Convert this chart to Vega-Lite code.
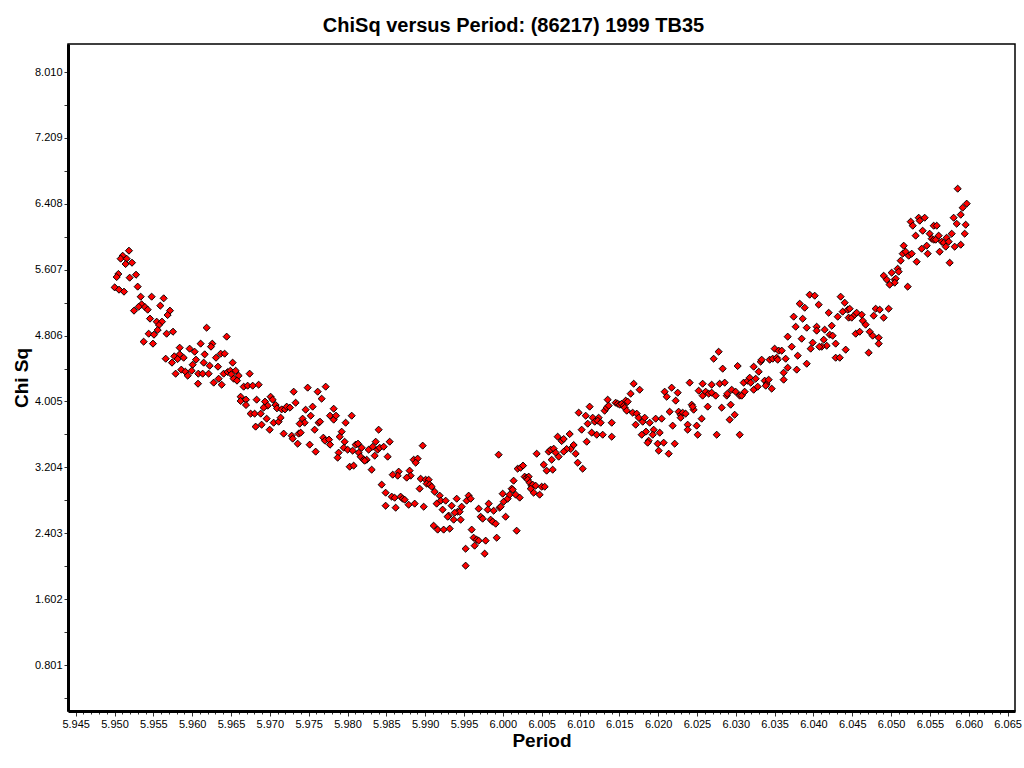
{
  "$schema": "https://vega.github.io/schema/vega-lite/v6.json",
  "width": 947,
  "height": 667,
  "autosize": "none",
  "padding": {"left": 68, "top": 44, "right": 9, "bottom": 57},
  "background": "white",
  "config": {
    "font": "Liberation Sans",
    "view": {"stroke": "black", "strokeWidth": 1.5},
    "axis": {"grid": false, "domainColor": "black", "domainWidth": 3, "tickColor": "#333", "labelColor": "black", "labelFontSize": 11, "labelFont": "Liberation Sans", "titleFont": "Liberation Sans", "titleFontSize": 19, "titleFontWeight": "bold", "titleColor": "black"}
  },
  "title": {"text": "ChiSq versus Period: (86217) 1999 TB35", "fontSize": 20, "fontWeight": "bold", "font": "Liberation Sans", "color": "black", "anchor": "middle", "dx": -28, "offset": 8},
  "data": {"values": [
{"period":5.95186,"chisq":5.838},{"period":5.95105,"chisq":5.777},{"period":5.95079,"chisq":5.741},{"period":5.95156,"chisq":5.741},{"period":5.95143,"chisq":5.676},{"period":5.95225,"chisq":5.692},{"period":5.95049,"chisq":5.555},{"period":5.95028,"chisq":5.518},{"period":5.95195,"chisq":5.510},{"period":5.95277,"chisq":5.546},{"period":5.95002,"chisq":5.392},{"period":5.95058,"chisq":5.364},{"period":5.95122,"chisq":5.340},{"period":5.95298,"chisq":5.401},{"period":5.95337,"chisq":5.279},{"period":5.95478,"chisq":5.279},{"period":5.95633,"chisq":5.259},{"period":5.95590,"chisq":5.170},{"period":5.95349,"chisq":5.186},{"period":5.95311,"chisq":5.157},{"period":5.95392,"chisq":5.153},{"period":5.95427,"chisq":5.121},{"period":5.95251,"chisq":5.109},{"period":5.95714,"chisq":5.109},{"period":5.95684,"chisq":5.056},{"period":5.95457,"chisq":5.012},{"period":5.95543,"chisq":4.975},{"period":5.95611,"chisq":4.975},{"period":5.95573,"chisq":4.935},{"period":5.95556,"chisq":4.874},{"period":5.95440,"chisq":4.829},{"period":5.95508,"chisq":4.817},{"period":5.95671,"chisq":4.829},{"period":5.95753,"chisq":4.853},{"period":5.95375,"chisq":4.732},{"period":5.95495,"chisq":4.708},{"period":5.96186,"chisq":4.902},{"period":5.96444,"chisq":4.793},{"period":5.96109,"chisq":4.708},{"period":5.96259,"chisq":4.708},{"period":5.96242,"chisq":4.671},{"period":5.95839,"chisq":4.659},{"period":5.95967,"chisq":4.647},{"period":5.96032,"chisq":4.610},{"period":5.96161,"chisq":4.578},{"period":5.96367,"chisq":4.586},{"period":5.96418,"chisq":4.586},{"period":5.95770,"chisq":4.554},{"period":5.95839,"chisq":4.578},{"period":5.95890,"chisq":4.537},{"period":5.95813,"chisq":4.521},{"period":5.95659,"chisq":4.525},{"period":5.95740,"chisq":4.477},{"period":5.96049,"chisq":4.513},{"period":5.96148,"chisq":4.477},{"period":5.96307,"chisq":4.537},{"period":5.96006,"chisq":4.452},{"period":5.96225,"chisq":4.440},{"period":5.96332,"chisq":4.428},{"period":5.96521,"chisq":4.477},{"period":5.95860,"chisq":4.392},{"period":5.95912,"chisq":4.367},{"period":5.95942,"chisq":4.319},{"period":5.95993,"chisq":4.379},{"period":5.95787,"chisq":4.343},{"period":5.96079,"chisq":4.343},{"period":5.96135,"chisq":4.343},{"period":5.96212,"chisq":4.343},{"period":5.96405,"chisq":4.343},{"period":5.96457,"chisq":4.363},{"period":5.96491,"chisq":4.379},{"period":5.96560,"chisq":4.379},{"period":5.96504,"chisq":4.335},{"period":5.96598,"chisq":4.319},{"period":5.96740,"chisq":4.343},{"period":5.96534,"chisq":4.282},{"period":5.96577,"chisq":4.258},{"period":5.96341,"chisq":4.282},{"period":5.96277,"chisq":4.234},{"period":5.96380,"chisq":4.209},{"period":5.96075,"chisq":4.221},{"period":5.96663,"chisq":4.185},{"period":5.96714,"chisq":4.197},{"period":5.96779,"chisq":4.197},{"period":5.96856,"chisq":4.209},{"period":5.96624,"chisq":4.063},{"period":5.96624,"chisq":4.011},{"period":5.96693,"chisq":4.027},{"period":5.96693,"chisq":3.962},{"period":5.96830,"chisq":4.027},{"period":5.96938,"chisq":4.003},{"period":5.97010,"chisq":4.063},{"period":5.97036,"chisq":4.027},{"period":5.97075,"chisq":3.962},{"period":5.96972,"chisq":3.954},{"period":5.96920,"chisq":3.930},{"period":5.97092,"chisq":3.922},{"period":5.97152,"chisq":3.909},{"period":5.97195,"chisq":3.909},{"period":5.97217,"chisq":3.942},{"period":5.97259,"chisq":3.930},{"period":5.97307,"chisq":4.124},{"period":5.97332,"chisq":3.990},{"period":5.97487,"chisq":4.173},{"period":5.97616,"chisq":4.124},{"period":5.97719,"chisq":4.185},{"period":5.97667,"chisq":4.039},{"period":5.97461,"chisq":3.905},{"period":5.97551,"chisq":3.942},{"period":5.97526,"chisq":3.832},{"period":5.97422,"chisq":3.796},{"period":5.97448,"chisq":3.747},{"period":5.97384,"chisq":3.735},{"period":5.96753,"chisq":3.857},{"period":5.96804,"chisq":3.857},{"period":5.96882,"chisq":3.857},{"period":5.96959,"chisq":3.796},{"period":5.97049,"chisq":3.747},{"period":5.97113,"chisq":3.759},{"period":5.97139,"chisq":3.808},{"period":5.96817,"chisq":3.699},{"period":5.96894,"chisq":3.723},{"period":5.96998,"chisq":3.662},{"period":5.97178,"chisq":3.614},{"period":5.97281,"chisq":3.589},{"period":5.97294,"chisq":3.553},{"period":5.97371,"chisq":3.614},{"period":5.97397,"chisq":3.626},{"period":5.97358,"chisq":3.492},{"period":5.97513,"chisq":3.480},{"period":5.97590,"chisq":3.395},{"period":5.97577,"chisq":3.662},{"period":5.97628,"chisq":3.747},{"period":5.97646,"chisq":3.759},{"period":5.97689,"chisq":3.565},{"period":5.97710,"chisq":3.528},{"period":5.97762,"chisq":3.541},{"period":5.97775,"chisq":3.480},{"period":5.97775,"chisq":3.832},{"period":5.97822,"chisq":3.917},{"period":5.97822,"chisq":3.784},
{"period":5.97852,"chisq":3.832},{"period":5.97976,"chisq":3.747},{"period":5.98054,"chisq":3.832},{"period":5.97925,"chisq":3.638},{"period":5.97899,"chisq":3.577},{"period":5.97963,"chisq":3.516},{"period":5.97886,"chisq":3.383},{"period":5.97873,"chisq":3.322},{"period":5.97951,"chisq":3.443},{"period":5.98002,"chisq":3.419},{"period":5.98066,"chisq":3.407},{"period":5.98105,"chisq":3.480},{"period":5.98135,"chisq":3.492},{"period":5.98182,"chisq":3.443},{"period":5.98144,"chisq":3.383},{"period":5.98169,"chisq":3.334},{"period":5.98208,"chisq":3.297},{"period":5.98247,"chisq":3.297},{"period":5.98221,"chisq":3.285},{"period":5.98272,"chisq":3.419},{"period":5.98324,"chisq":3.455},{"period":5.98363,"chisq":3.516},{"period":5.98388,"chisq":3.419},{"period":5.98414,"chisq":3.443},{"period":5.98466,"chisq":3.455},{"period":5.98350,"chisq":3.346},{"period":5.98543,"chisq":3.516},{"period":5.98517,"chisq":3.334},{"period":5.98401,"chisq":3.662},{"period":5.98028,"chisq":3.212},{"period":5.98079,"chisq":3.225},{"period":5.98311,"chisq":3.176},{"period":5.98968,"chisq":3.468},{"period":5.98852,"chisq":3.297},{"period":5.98903,"chisq":3.310},{"period":5.98878,"chisq":3.261},{"period":5.98800,"chisq":3.164},{"period":5.98813,"chisq":3.103},{"period":5.98762,"chisq":3.079},{"period":5.98659,"chisq":3.152},{"period":5.98646,"chisq":3.103},{"period":5.98582,"chisq":3.115},{"period":5.98942,"chisq":3.066},{"period":5.99006,"chisq":3.054},{"period":5.99045,"chisq":3.054},{"period":5.99019,"chisq":3.006},{"period":5.99058,"chisq":2.994},{"period":5.99084,"chisq":2.969},{"period":5.98929,"chisq":2.945},{"period":5.99122,"chisq":2.908},{"period":5.98440,"chisq":2.994},{"period":5.98491,"chisq":2.896},{"period":5.98569,"chisq":2.848},{"period":5.98607,"chisq":2.835},{"period":5.98684,"chisq":2.848},{"period":5.98710,"chisq":2.823},{"period":5.98736,"chisq":2.811},{"period":5.98491,"chisq":2.738},{"period":5.98620,"chisq":2.714},{"period":5.98787,"chisq":2.750},{"period":5.98865,"chisq":2.763},{"period":5.98981,"chisq":2.726},{"period":5.99187,"chisq":2.860},{"period":5.99200,"chisq":2.799},{"period":5.99264,"chisq":2.799},{"period":5.99148,"chisq":2.763},{"period":5.99225,"chisq":2.690},{"period":5.99341,"chisq":2.738},{"period":5.99406,"chisq":2.823},{"period":5.99418,"chisq":2.665},{"period":5.99444,"chisq":2.665},{"period":5.99380,"chisq":2.653},{"period":5.99470,"chisq":2.726},{"period":5.99303,"chisq":2.617},{"period":5.99290,"chisq":2.604},{"period":5.99367,"chisq":2.568},{"period":5.99457,"chisq":2.568},{"period":5.99109,"chisq":2.495},{"period":5.99161,"chisq":2.447},{"period":5.99238,"chisq":2.447},{"period":5.99316,"chisq":2.459},{"period":5.99534,"chisq":2.799},{"period":5.99560,"chisq":2.860},{"period":5.99586,"chisq":2.823},{"period":5.99689,"chisq":2.702},{"period":5.99715,"chisq":2.604},{"period":5.99740,"chisq":2.580},{"period":5.99805,"chisq":2.690},{"period":5.99818,"chisq":2.763},{"period":5.99882,"chisq":2.677},{"period":5.99843,"chisq":2.568},{"period":5.99869,"chisq":2.544},{"period":5.99908,"chisq":2.519},{"period":5.99959,"chisq":2.714},{"period":5.99972,"chisq":2.726},{"period":6.00036,"chisq":2.604},{"period":5.99998,"chisq":2.884},{"period":6.00011,"chisq":2.787},{"period":6.00062,"chisq":2.823},{"period":6.00088,"chisq":2.872},{"period":6.00114,"chisq":2.945},{"period":6.00127,"chisq":2.933},{"period":6.00139,"chisq":3.042},{"period":6.00165,"chisq":2.872},{"period":6.00217,"chisq":2.836},{"period":6.00191,"chisq":3.188},{"period":6.00229,"chisq":3.200},{"period":6.00260,"chisq":3.225},{"period":6.00281,"chisq":3.091},{"period":6.00307,"chisq":3.079},{"period":6.00333,"chisq":3.091},{"period":6.00320,"chisq":3.054},{"period":6.00346,"chisq":3.018},{"period":6.00371,"chisq":2.981},{"period":6.00384,"chisq":2.994},{"period":6.00397,"chisq":2.896},{"period":6.00423,"chisq":2.981},{"period":6.00359,"chisq":2.945},{"period":6.00474,"chisq":2.872},{"period":6.00500,"chisq":2.969},{"period":6.00539,"chisq":2.969},{"period":6.00526,"chisq":3.237},{"period":6.00564,"chisq":3.164},{"period":6.00629,"chisq":3.297},{"period":6.00642,"chisq":3.176},{"period":6.00590,"chisq":3.395},{"period":6.00616,"chisq":3.419},{"period":6.00655,"chisq":3.431},{"period":6.00680,"chisq":3.383},{"period":6.00719,"chisq":3.334},{"period":6.00706,"chisq":3.577},{"period":6.00436,"chisq":3.370},{"period":5.99946,"chisq":3.358},{"period":5.99599,"chisq":2.447},{"period":5.99624,"chisq":2.349},{"period":5.99663,"chisq":2.325},{"period":5.99689,"chisq":2.313},{"period":5.99637,"chisq":2.252},{"period":5.99779,"chisq":2.313},{"period":5.99766,"chisq":2.155},{"period":5.99921,"chisq":2.349},{"period":5.99521,"chisq":2.215},{"period":5.99521,"chisq":2.009},{"period":6.00178,"chisq":2.434},
{"period":6.00758,"chisq":3.524},{"period":6.00784,"chisq":3.549},{"period":6.00861,"chisq":3.609},{"period":6.00912,"chisq":3.476},{"period":6.00874,"chisq":3.427},{"period":6.00822,"chisq":3.427},{"period":6.00784,"chisq":3.395},{"period":6.00938,"chisq":3.370},{"period":6.00964,"chisq":3.261},{"period":6.01028,"chisq":3.188},{"period":6.00977,"chisq":3.869},{"period":6.01067,"chisq":3.832},{"period":6.01118,"chisq":3.942},{"period":6.01093,"chisq":3.735},{"period":6.01015,"chisq":3.662},{"period":6.01157,"chisq":3.808},{"period":6.01183,"chisq":3.759},{"period":6.01234,"chisq":3.808},{"period":6.01221,"chisq":3.772},{"period":6.01260,"chisq":3.747},{"period":6.01144,"chisq":3.626},{"period":6.01209,"chisq":3.601},{"period":6.01286,"chisq":3.601},{"period":6.01080,"chisq":3.516},{"period":6.01311,"chisq":3.893},{"period":6.01337,"chisq":3.930},{"period":6.01363,"chisq":3.954},{"period":6.01350,"chisq":4.027},{"period":6.01402,"chisq":3.747},{"period":6.01402,"chisq":3.577},{"period":6.01453,"chisq":3.990},{"period":6.01479,"chisq":3.978},{"period":6.01505,"chisq":3.966},{"period":6.01530,"chisq":3.978},{"period":6.01556,"chisq":3.954},{"period":6.01582,"chisq":4.015},{"period":6.01608,"chisq":4.003},{"period":6.01569,"chisq":3.930},{"period":6.01595,"chisq":3.893},{"period":6.01646,"chisq":4.100},{"period":6.01685,"chisq":4.221},{"period":6.01762,"chisq":4.148},{"period":6.01672,"chisq":3.869},{"period":6.01724,"chisq":3.857},{"period":6.01749,"chisq":3.808},{"period":6.01801,"chisq":3.759},{"period":6.01827,"chisq":3.808},{"period":6.01711,"chisq":3.723},{"period":6.01844,"chisq":3.638},{"period":6.01788,"chisq":3.601},{"period":6.01891,"chisq":3.747},{"period":6.01942,"chisq":3.662},{"period":6.01930,"chisq":3.601},{"period":6.01878,"chisq":3.528},{"period":6.01865,"chisq":3.504},{"period":6.01968,"chisq":3.796},{"period":6.02045,"chisq":3.796},{"period":6.02020,"chisq":3.626},{"period":6.01994,"chisq":3.492},{"period":6.02071,"chisq":3.504},{"period":6.02007,"chisq":3.407},{"period":6.02136,"chisq":3.370},{"period":6.02084,"chisq":4.124},{"period":6.02110,"chisq":4.063},{"period":6.02174,"chisq":4.173},{"period":6.02252,"chisq":4.112},{"period":6.02226,"chisq":4.015},{"period":6.02148,"chisq":3.881},{"period":6.02187,"chisq":3.711},{"period":6.02213,"chisq":3.492},{"period":6.02264,"chisq":3.881},{"period":6.02290,"chisq":3.844},{"period":6.02316,"chisq":3.869},{"period":6.02354,"chisq":3.857},{"period":6.02290,"chisq":3.808},{"period":6.02380,"chisq":3.723},{"period":6.02380,"chisq":3.662},{"period":6.02406,"chisq":4.234},{"period":6.02432,"chisq":3.966},{"period":6.02457,"chisq":3.905},{"period":6.02444,"chisq":3.942},{"period":6.02509,"chisq":3.601},{"period":6.02496,"chisq":3.711},{"period":6.02560,"chisq":3.796},{"period":6.02573,"chisq":4.076},{"period":6.02573,"chisq":4.221},{"period":6.02522,"chisq":4.136},{"period":6.02612,"chisq":4.124},{"period":6.02651,"chisq":4.100},{"period":6.02689,"chisq":4.112},{"period":6.02689,"chisq":4.209},{"period":6.02741,"chisq":4.076},{"period":6.02638,"chisq":3.942},{"period":6.02818,"chisq":3.930},{"period":6.02792,"chisq":4.221},{"period":6.02857,"chisq":4.234},{"period":6.02754,"chisq":3.601},{"period":6.02715,"chisq":4.525},{"period":6.02779,"chisq":4.610},{"period":6.02831,"chisq":4.404},{"period":6.02883,"chisq":4.076},{"period":6.02891,"chisq":4.100},{"period":6.02947,"chisq":4.148},{"period":6.02934,"chisq":3.966},{"period":6.02985,"chisq":3.844},{"period":6.02921,"chisq":3.784},{"period":6.03024,"chisq":4.436},{"period":6.02998,"chisq":4.124},{"period":6.03050,"chisq":4.076},{"period":6.03076,"chisq":4.076},{"period":6.03114,"chisq":4.124},{"period":6.03050,"chisq":3.601},{"period":6.03101,"chisq":4.234},{"period":6.03153,"chisq":4.258},{"period":6.03179,"chisq":4.294},{"period":6.03192,"chisq":4.234},{"period":6.03230,"chisq":4.428},{"period":6.03230,"chisq":4.148},{"period":6.03256,"chisq":4.282},{"period":6.03282,"chisq":4.185},{"period":6.03295,"chisq":4.367},{"period":6.03320,"chisq":4.489},{"period":6.03333,"chisq":4.513},{"period":6.03372,"chisq":4.258},{"period":6.03397,"chisq":4.221},{"period":6.03423,"chisq":4.270},{"period":6.03385,"chisq":4.197},{"period":6.03462,"chisq":4.161},{"period":6.03436,"chisq":4.513},{"period":6.03475,"chisq":4.525},{"period":6.03526,"chisq":4.537},{"period":6.03539,"chisq":4.513},{"period":6.03500,"chisq":4.647},{"period":6.03552,"chisq":4.623},{"period":6.03591,"chisq":4.623},{"period":6.03642,"chisq":4.525},{"period":6.03616,"chisq":4.355},{"period":6.03616,"chisq":4.270},{"period":6.03668,"chisq":4.416},{"period":6.03668,"chisq":4.793},
{"period":6.03784,"chisq":4.392},{"period":6.03913,"chisq":4.464},{"period":6.03797,"chisq":4.562},{"period":6.03720,"chisq":4.671},{"period":6.03848,"chisq":4.768},{"period":6.03771,"chisq":4.914},{"period":6.03913,"chisq":4.902},{"period":6.03745,"chisq":5.036},{"period":6.03861,"chisq":5.011},{"period":6.03823,"chisq":5.194},{"period":6.03887,"chisq":5.145},{"period":6.03951,"chisq":5.303},{"period":6.04016,"chisq":5.291},{"period":6.04067,"chisq":5.182},{"period":6.04196,"chisq":5.084},{"period":6.04312,"chisq":5.036},{"period":6.04350,"chisq":5.279},{"period":6.04402,"chisq":5.206},{"period":6.04376,"chisq":5.097},{"period":6.04441,"chisq":5.121},{"period":6.04466,"chisq":5.133},{"period":6.04453,"chisq":5.024},{"period":6.04492,"chisq":5.024},{"period":6.04531,"chisq":5.060},{"period":6.04556,"chisq":5.084},{"period":6.04621,"chisq":5.060},{"period":6.04634,"chisq":4.987},{"period":6.04672,"chisq":4.939},{"period":6.04544,"chisq":4.829},{"period":6.04595,"chisq":4.853},{"period":6.04724,"chisq":4.853},{"period":6.04762,"chisq":4.805},{"period":6.04840,"chisq":4.780},{"period":6.04840,"chisq":4.708},{"period":6.04711,"chisq":4.598},{"period":6.04415,"chisq":4.635},{"period":6.04286,"chisq":4.537},{"period":6.04338,"chisq":4.537},{"period":6.04286,"chisq":4.708},{"period":6.04170,"chisq":4.683},{"period":6.04106,"chisq":4.671},{"period":6.04076,"chisq":4.671},{"period":6.04132,"chisq":4.756},{"period":6.03964,"chisq":4.647},{"period":6.03990,"chisq":4.720},{"period":6.04041,"chisq":4.914},{"period":6.04041,"chisq":4.866},{"period":6.04144,"chisq":4.878},{"period":6.04209,"chisq":4.817},{"period":6.04247,"chisq":4.805},{"period":6.04235,"chisq":4.926},{"period":6.04775,"chisq":5.048},{"period":6.04801,"chisq":5.133},{"period":6.04853,"chisq":5.121},{"period":6.04904,"chisq":5.024},{"period":6.04968,"chisq":5.133},{"period":6.04904,"chisq":5.534},{"period":6.04943,"chisq":5.486},{"period":6.05007,"chisq":5.571},{"period":6.05046,"chisq":5.486},{"period":6.05059,"chisq":5.498},{"period":6.05046,"chisq":5.449},{"period":6.04981,"chisq":5.425},{"period":6.05084,"chisq":5.619},{"period":6.05097,"chisq":5.583},{"period":6.05123,"chisq":5.717},{"period":6.05162,"chisq":5.899},{"period":6.05149,"chisq":5.802},{"period":6.05187,"chisq":5.826},{"period":6.05226,"chisq":5.777},{"period":6.05265,"chisq":5.802},{"period":6.05213,"chisq":5.401},{"period":6.05329,"chisq":5.704},{"period":6.05316,"chisq":6.021},{"period":6.05393,"chisq":5.862},{"period":6.05406,"chisq":6.081},{"period":6.05458,"chisq":5.899},{"period":6.05471,"chisq":5.802},{"period":6.05496,"chisq":6.045},{"period":6.05522,"chisq":5.984},{"period":6.05548,"chisq":5.972},{"period":6.05574,"chisq":5.972},{"period":6.05612,"chisq":6.021},{"period":6.05625,"chisq":5.826},{"period":6.05651,"chisq":5.948},{"period":6.05677,"chisq":5.935},{"period":6.05715,"chisq":5.996},{"period":6.05741,"chisq":5.948},{"period":6.05703,"chisq":5.887},{"period":6.05754,"chisq":5.692},{"period":6.05780,"chisq":6.045},{"period":6.05818,"chisq":5.887},{"period":6.05844,"chisq":6.166},{"period":6.05896,"chisq":6.276},{"period":6.05896,"chisq":5.911},{"period":6.05921,"chisq":6.361},{"period":6.05973,"chisq":6.410},{"period":6.05960,"chisq":6.154},{"period":6.05947,"chisq":6.045},{"period":6.05857,"chisq":6.592},{"period":6.05805,"chisq":6.239},{"period":6.05252,"chisq":6.191},{"period":6.05278,"chisq":6.142},{"period":6.05355,"chisq":6.239},{"period":6.05368,"chisq":6.203},{"period":6.05432,"chisq":6.239},{"period":6.05548,"chisq":6.142},{"period":6.05587,"chisq":6.142}
  ]},
  "mark": {"type": "point", "shape": "diamond", "filled": true, "fill": "#ff0000", "stroke": "black", "strokeWidth": 1, "size": 50, "opacity": 1},
  "encoding": {
    "x": {
      "field": "period", "type": "quantitative", "title": "Period",
      "scale": {"domain": [5.94401, 6.06595], "nice": false, "zero": false},
      "axis": {
        "values": [5.945,5.946,5.947,5.948,5.949,5.95,5.951,5.952,5.953,5.954,5.955,5.956,5.957,5.958,5.959,5.96,5.961,5.962,5.963,5.964,5.965,5.966,5.967,5.968,5.969,5.97,5.971,5.972,5.973,5.974,5.975,5.976,5.977,5.978,5.979,5.98,5.981,5.982,5.983,5.984,5.985,5.986,5.987,5.988,5.989,5.99,5.991,5.992,5.993,5.994,5.995,5.996,5.997,5.998,5.999,6.0,6.001,6.002,6.003,6.004,6.005,6.006,6.007,6.008,6.009,6.01,6.011,6.012,6.013,6.014,6.015,6.016,6.017,6.018,6.019,6.02,6.021,6.022,6.023,6.024,6.025,6.026,6.027,6.028,6.029,6.03,6.031,6.032,6.033,6.034,6.035,6.036,6.037,6.038,6.039,6.04,6.041,6.042,6.043,6.044,6.045,6.046,6.047,6.048,6.049,6.05,6.051,6.052,6.053,6.054,6.055,6.056,6.057,6.058,6.059,6.06,6.061,6.062,6.063,6.064,6.065],
        "format": ".3f",
        "labelExpr": "abs(datum.value*200 - round(datum.value*200)) < 0.01 ? datum.label : ''",
        "tickSize": {"condition": {"test": "abs(datum.value*200 - round(datum.value*200)) < 0.01", "value": 5}, "value": 3},
        "labelPadding": 2, "labelOverlap": false, "labelFlush": false, "titlePadding": 2
      }
    },
    "y": {
      "field": "chisq", "type": "quantitative", "title": "Chi Sq",
      "scale": {"domain": [0.242, 8.351], "nice": false, "zero": false},
      "axis": {
        "values": [0.4005,0.801,1.2015,1.602,2.0025,2.403,2.8035,3.204,3.6045,4.005,4.4055,4.806,5.2065,5.607,6.0075,6.408,6.8085,7.209,7.6095,8.01],
        "format": ".3f",
        "labelExpr": "abs(datum.value/0.801 - round(datum.value/0.801)) < 0.01 ? datum.label : ''",
        "tickSize": 4,
        "labelPadding": 2, "labelOverlap": false, "labelFlush": false, "titlePadding": 3
      }
    }
  }
}
